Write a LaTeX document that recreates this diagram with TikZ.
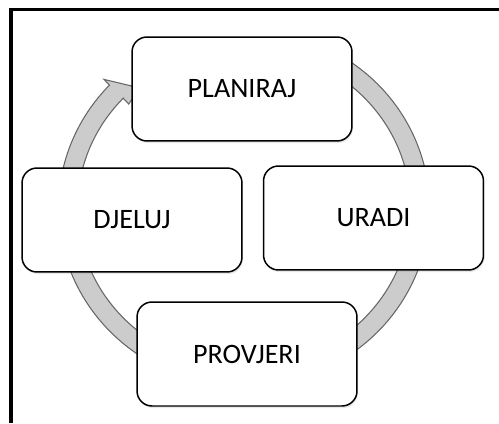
\documentclass[tikz,border=0pt]{standalone}
\usepackage{fontspec}
\setmainfont{Carlito}
\usepackage{tikz}
\usetikzlibrary{calc, shadows}

\begin{document}
\begin{tikzpicture}[
    x=0.02cm, y=0.02cm,
    font=\fontsize{16}{19}\selectfont,
    phasebox/.style={draw=black, rounded corners=0.3cm, minimum width=4.4cm, minimum height=2.08cm, fill=white, line width=0.85pt, align=center, drop shadow={shadow xshift=0.6pt, shadow yshift=-1.2pt, opacity=0.18}},
    cyclering/.style={fill=gray!40, draw=black!60, line width=0.6pt},
    frameline/.style={line width=0.07cm, line join=miter}
]
\useasboundingbox (0,0) rectangle (499,423);

% === FRAME ===
\draw[frameline] (11,0) |- (499,413.5);

% === RING WITH ARROW ===
\filldraw[cyclering] (244,215) ++(60:185.5 and 178.5)
    arc[start angle=60, end angle=-223.5, x radius=185.5, y radius=178.5]
    -- (104,343.6) -- (140,335) -- (128.7,319)
    -- ($(244,215)+(-223.5:166.5 and 159.5)$)
    arc[start angle=-223.5, end angle=60, x radius=166.5, y radius=159.5]
    -- cycle;

% === PHASES ===
\node[phasebox] (plan) at (242,334) {PLANIRAJ};
\node[phasebox] (do) at (373.5,205) {URADI};
\node[phasebox] (check) at (247,69) {PROVJERI};
\node[phasebox] (act) at (132,203) {DJELUJ};

\end{tikzpicture}
\end{document}
